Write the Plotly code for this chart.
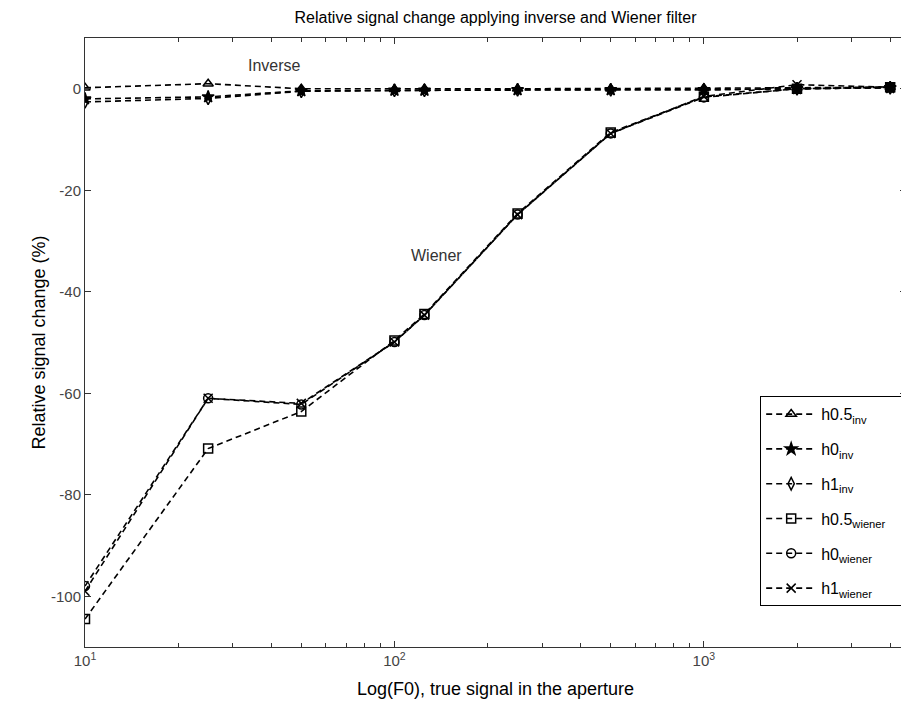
import plotly.graph_objects as go

x_vals = [10, 25, 50, 100, 125, 250, 500, 1000, 2000, 4000]

h05_inv = [0.2, 1.0, 0.0, -0.1, 0.0, 0.0, 0.0, 0.1, 0.2, 0.3]
h0_inv = [-2.0, -1.6, -0.4, -0.3, -0.3, -0.2, -0.2, -0.2, 0.0, 0.2]
h1_inv = [-2.6, -1.9, -0.5, -0.3, -0.3, -0.2, -0.2, -0.2, 0.0, 0.2]

h05_wiener = [-104.5, -70.9, -63.6, -49.6, -44.4, -24.6, -8.6, -1.6, 0.0, 0.3]
h0_wiener = [-98.0, -61.0, -62.2, -49.9, -44.6, -24.8, -8.8, -1.7, 0.0, 0.3]
h1_wiener = [-99.0, -61.0, -62.0, -49.9, -44.6, -24.8, -8.8, -1.5, 0.8, 0.3]

series = [
    ("h0.5<sub>inv</sub>", h05_inv, "triangle-up-open"),
    ("h0<sub>inv</sub>", h0_inv, "star"),
    ("h1<sub>inv</sub>", h1_inv, "diamond-tall-open"),
    ("h0.5<sub>wiener</sub>", h05_wiener, "square-open"),
    ("h0<sub>wiener</sub>", h0_wiener, "circle-open"),
    ("h1<sub>wiener</sub>", h1_wiener, "x-thin-open"),
]

y_ticks = [0, -20, -40, -60, -80, -100]
y_ticktext = ["0", "-20", "-40", "-60", "-80", "-100"]
x_tickvals = [10, 100, 1000]
x_ticktext = ["10<sup>1</sup>", "10<sup>2</sup>", "10<sup>3</sup>"]

fig = go.Figure()
for i, (name, yv, sym) in enumerate(series):
    fig.add_trace(go.Scatter(
        x=x_vals, y=yv, name=name + "&nbsp;&nbsp;&nbsp;", mode="lines+markers",
        legendgroup="g%d" % i,
        line=dict(color="black", width=1.6, dash="6px,4px"),
        marker=dict(symbol=sym, size=9, color="black",
                    line=dict(color="black", width=1.5)),
    ))

font = "Liberation Sans, Arial, sans-serif"
axis_common = dict(
    showline=True, linecolor="#333", linewidth=1, mirror="ticks",
    ticks="inside", ticklen=6, tickcolor="#333", showgrid=False,
    zeroline=False, automargin=False,
    tickfont=dict(size=15, color="#444", family=font),
)

fig.update_layout(
    width=901, height=705,
    margin=dict(l=77, r=3, t=30, b=66),
    paper_bgcolor="white", plot_bgcolor="white",
    title=dict(text="Relative signal change applying inverse and Wiener filter",
               x=0.5, xref="paper", y=0.987, yanchor="middle",
               font=dict(size=16, color="black", family=font)),
    font=dict(family=font, color="black"),
    showlegend=True,
    legend=dict(x=0.999, xanchor="right", y=0.067, yanchor="bottom",
                bordercolor="black", borderwidth=1, bgcolor="white",
                font=dict(size=16, family=font, color="black"),
                itemwidth=50, tracegroupgap=11),
    annotations=[
        dict(x=1.614, y=4.5, xref="x", yref="y", text="Inverse", showarrow=False,
             font=dict(size=16, color="#333", family=font)),
        dict(x=2.137, y=-32.8, xref="x", yref="y", text="Wiener", showarrow=False,
             font=dict(size=16, color="#333", family=font)),
    ],
)

fig.update_xaxes(type="log", range=[1, 3.6532], tickvals=x_tickvals, ticktext=x_ticktext,
                 title=dict(text="Log(F0), true signal in the aperture",
                            font=dict(size=18, family=font, color="black"), standoff=14),
                 minor=dict(ticks="inside", ticklen=4, tickcolor="#333", dtick="D1", showgrid=False),
                 **axis_common)
fig.update_yaxes(range=[-110, 10], tickvals=y_ticks, ticktext=y_ticktext,
                 title=dict(text="Relative signal change (%)",
                            font=dict(size=18, family=font, color="black"), standoff=0),
                 **axis_common)

fig.write_html("out.html")
